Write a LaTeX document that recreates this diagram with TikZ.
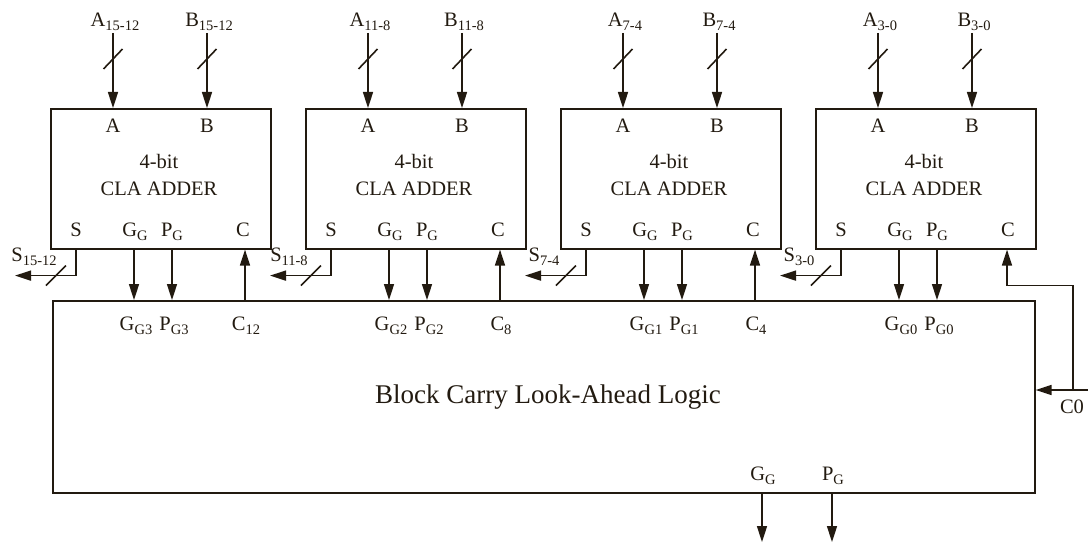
\documentclass[tikz,border=0pt]{standalone}
\usepackage{fontspec}
\setmainfont{Liberation Serif}
\usetikzlibrary{arrows.meta,calc}
\definecolor{ink}{RGB}{34,26,16}
\newcommand\lowsub[1]{\raisebox{-4pt}{\fontsize{14.5}{16}\selectfont #1}}
\begin{document}
\begin{tikzpicture}[x=1pt,y=-1pt,
  wire/.style={line width=1.6pt, draw=ink},
  arr/.style={wire,-{Triangle[length=16pt,width=10pt]}},
  box/.style={draw=ink, line width=1.6pt, inner sep=0pt, anchor=north west},
  lbl/.style={text=ink, font=\fontsize{20.5}{22}\selectfont, inner sep=0pt, anchor=base},
  biglbl/.style={text=ink, font=\fontsize{27}{30}\selectfont, inner sep=0pt, anchor=base}]
\useasboundingbox (0,0) rectangle (1088,543);
% big block
\node[box, minimum width=982pt, minimum height=192pt] (cla) at (52,300) {};
\node[biglbl] (clatext) at (548,403) {Block Carry Look-Ahead Logic};
\foreach \i/\bx/\r/\g in {1/50/15-12/3, 2/305/11-8/2, 3/560/7-4/1, 4/815/3-0/0}{
  \node[box, minimum width=220pt, minimum height=140pt] (add\i) at (\bx,108) {};
  % inputs
  \node[lbl] (la\i) at (\bx+65,27) {A\lowsub{\r}};
  \node[lbl] (lb\i) at (\bx+159,27) {B\lowsub{\r}};
  \coordinate (ta\i) at (\bx+63,33);
  \coordinate (tb\i) at (\bx+157,33);
  \draw[arr] (ta\i) -- (ta\i |- add\i.north);
  \draw[arr] (tb\i) -- (tb\i |- add\i.north);
  \draw[wire] ($(ta\i)+(-9.5,36)$) -- ($(ta\i)+(9.5,16)$);
  \draw[wire] ($(tb\i)+(-9.5,36)$) -- ($(tb\i)+(9.5,16)$);
  % inside labels
  \node[lbl] (pa\i) at (\bx+63,132) {A};
  \node[lbl] (pb\i) at (\bx+157,132) {B};
  \node[lbl] (t1\i) at (\bx+109,168) {4-bit};
  \node[lbl] (t2\i) at (\bx+109,195) {CLA ADDER};
  \node[lbl] (ps\i) at (\bx+26,236) {S};
  \node[lbl] (pg\i) at (\bx+85,236) {G\lowsub{G}};
  \node[lbl] (pp\i) at (\bx+122,236) {P\lowsub{G}};
  \node[lbl] (pc\i) at (\bx+193,236) {C};
  % sum output
  \coordinate (ss\i) at ($(add\i.south west)+(26,0)$);
  \coordinate (so\i) at ($(add\i.south west)+(-35,26)$);
  \draw[arr] (ss\i) |- (so\i);
  \draw[wire] ($(add\i.south west)+(-4,36)$) -- ($(add\i.south west)+(16,16)$);
  \node[lbl] (ls\i) at (\bx-16,261) {S\lowsub{\r}};
  % group generate / propagate
  \coordinate (gg\i) at ($(add\i.south west)+(84,0)$);
  \coordinate (gp\i) at ($(add\i.south west)+(122,0)$);
  \draw[arr] (gg\i) -- (gg\i |- cla.north);
  \draw[arr] (gp\i) -- (gp\i |- cla.north);
  \node[lbl] (bg\i) at (\bx+86,330) {G\lowsub{G\g}};
  \node[lbl] (bp\i) at (\bx+124,330) {P\lowsub{G\g}};
}
% carries
\foreach \i/\bx/\c in {1/50/12, 2/305/8, 3/560/4}{
  \coordinate (cc\i) at ($(add\i.south west)+(195,0)$);
  \draw[arr] (cc\i |- cla.north) -- (cc\i);
  \node[lbl] (bc\i) at (\bx+196,330) {C\lowsub{\c}};
}
% C0 input
\coordinate (cc4) at ($(add4.south west)+(192,0)$);
\coordinate (c0in) at (1088,390);
\coordinate (c0j) at (1073,390);
\draw[arr] (c0in) -- (c0in -| cla.east);
\draw[arr] (c0j) |- ($(cc4)+(0,36)$) -- (cc4);
\node[lbl] (lc0) at (1072,413) {C0};
% group outputs
\coordinate (og) at (762,492);
\coordinate (op) at (832,492);
\coordinate (ogend) at (762,542);
\coordinate (opend) at (832,542);
\draw[arr] (og) -- (ogend);
\draw[arr] (op) -- (opend);
\node[lbl] (lgg) at (763,480) {G\lowsub{G}};
\node[lbl] (lpg) at (833,480) {P\lowsub{G}};
\end{tikzpicture}
\end{document}
